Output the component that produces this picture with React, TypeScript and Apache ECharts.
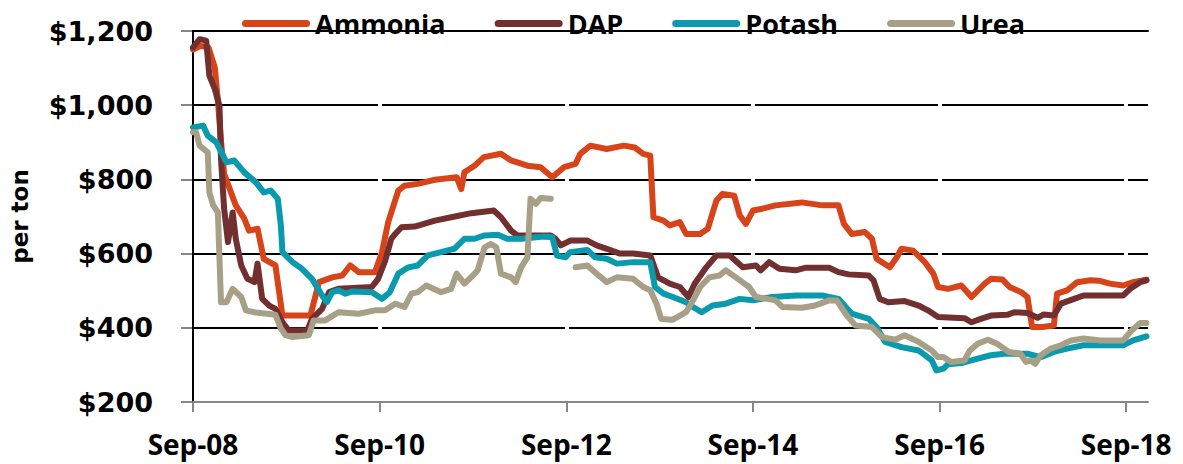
import React, { useEffect, useRef } from "react";
import * as echarts from "echarts";

// x values are months since Sep-2008
const seriesNames = ["Ammonia", "DAP", "Potash", "Urea"];
const seriesColors = ["#D8441A", "#722F2F", "#0A9AAD", "#A89F87"];

const ammonia: [number, number][] = [
  [0, 1150], [1, 1160], [2, 1155], [2.8, 1102], [3.2, 1012], [3.6, 904], [4.0, 815], [5.5, 730],
  [6.6, 694], [7.2, 662], [8.3, 667], [9.1, 586], [10.6, 568], [11.5, 433], [15.1, 433], [16.2, 523],
  [17.9, 536], [19.2, 541], [20.2, 568], [21.3, 550], [23.4, 550], [24.3, 604], [25.1, 685], [26.4, 770],
  [27.2, 783], [28.9, 788], [31.1, 799], [33.9, 806], [34.5, 774], [34.9, 819], [36.2, 837], [37.4, 860],
  [39.6, 869], [40.9, 851], [43, 837], [44.7, 833], [46.2, 806], [47.7, 833], [49.2, 842], [49.8, 869],
  [51.1, 891], [53.2, 882], [55.4, 891], [56.8, 886], [57.9, 869], [58.8, 864], [59.2, 698], [60.5, 689],
  [61.3, 676], [62.6, 685], [63.4, 653], [65.2, 653], [66.2, 667], [67.3, 743], [68.1, 761], [69.6, 756],
  [70.3, 703], [71.1, 680], [72, 716], [73.2, 721], [74.9, 730], [78.3, 738], [80.9, 730], [83, 730],
  [83.7, 680], [84.7, 653], [86.4, 658], [87.3, 640], [87.9, 586], [89.6, 563], [90.5, 590], [91.1, 613],
  [92.6, 608], [94.1, 577], [95.2, 546], [95.8, 510], [97.1, 505], [98.8, 514], [100.1, 483], [101.8, 519],
  [102.6, 532], [104.1, 530], [105, 510], [106.5, 496], [107.3, 483], [107.9, 402], [109.2, 402], [110.7, 406],
  [111.1, 492], [112.4, 501], [113.7, 523], [115.4, 528], [116.5, 527], [117.9, 519], [119.6, 514], [120.9, 523],
  [122.6, 530],
];

const dap: [number, number][] = [
  [0, 1156], [0.85, 1178], [1.7, 1174], [2.1, 1080], [2.8, 1044], [3.4, 999], [3.6, 856], [4.0, 721],
  [4.5, 631], [5.1, 711], [5.5, 640], [6.2, 568], [7.0, 532], [7.9, 523], [8.3, 573], [8.9, 478],
  [9.8, 460], [10.6, 451], [11.5, 415], [12.3, 393], [14.7, 393], [15.3, 424], [16.6, 451], [17.5, 496],
  [18.7, 505], [23, 510], [23.8, 532], [24.7, 580], [25.5, 640], [26, 653], [26.8, 671], [28.5, 673],
  [31.1, 689], [33.2, 698], [35.8, 709], [38.7, 716], [39.6, 698], [40.9, 662], [41.7, 649], [46, 649],
  [46.6, 640], [47.3, 622], [48.5, 635], [50.7, 635], [51.9, 622], [53.2, 613], [54.9, 600], [56.6, 600],
  [58.8, 595], [59.8, 536], [61.3, 519], [62.6, 510], [63.7, 483], [64.5, 519], [66, 563], [67.3, 595],
  [69, 595], [70.7, 563], [72.4, 568], [73, 555], [74.1, 577], [75.4, 559], [77.5, 555], [78.8, 562],
  [81.8, 562], [83, 550], [84.3, 544], [86.9, 541], [87.5, 528], [88.3, 478], [89.4, 469], [91.5, 472],
  [93.3, 460], [94.5, 447], [95.8, 429], [99.2, 426], [100.1, 415], [101.3, 424], [102.6, 433], [104.7, 435],
  [105.6, 442], [107.3, 440], [108.6, 427], [109.4, 436], [110.7, 433], [111.6, 465], [113.3, 478], [114.5, 487],
  [119.6, 487], [120.5, 505], [121.8, 523], [122.6, 528],
];

const potash: [number, number][] = [
  [0, 940], [1.3, 945], [1.9, 918], [3, 900], [4.3, 846], [5.3, 851], [6.6, 819], [8.1, 792],
  [9.1, 765], [10, 770], [10.9, 748], [11.3, 676], [11.5, 604], [12.8, 577], [14, 559], [15.3, 532],
  [16.6, 487], [17.2, 469], [17.9, 496], [18.7, 501], [19.6, 492], [20.5, 498], [23, 496], [24.3, 478],
  [25.3, 496], [26.4, 546], [27.7, 563], [28.9, 568], [30.2, 595], [31.9, 604], [33.6, 613], [34.9, 640],
  [36.2, 640], [37.5, 649], [39.2, 651], [40.4, 640], [42.2, 640], [45.1, 646], [46.2, 644], [46.8, 595],
  [47.9, 590], [48.5, 604], [50.7, 610], [51.7, 590], [53.2, 586], [54.5, 573], [56.6, 577], [58.8, 577],
  [59.4, 510], [60.5, 492], [61.7, 483], [63.4, 469], [64.3, 456], [65.4, 442], [66.8, 460], [68.5, 465],
  [70.3, 478], [72, 474], [74.5, 483], [77.5, 487], [80.9, 487], [83, 478], [84.7, 438], [86.9, 424],
  [87.9, 402], [89, 362], [91.1, 348], [93.3, 339], [95, 312], [95.6, 285], [96.5, 290], [97.1, 302],
  [98.8, 305], [100.9, 317], [102.6, 326], [104.3, 330], [107.3, 330], [109, 321], [110.7, 335], [112.4, 344],
  [114.5, 353], [119.6, 353], [120.9, 366], [122.6, 377],
];

const urea: [number, number | null][] = [
  [0, 927], [0.4, 927], [0.85, 891], [1.9, 873], [2.1, 765], [2.6, 730], [3.2, 711], [3.6, 469],
  [4.3, 469], [5.1, 505], [6.2, 483], [6.8, 447], [8.1, 441], [10.6, 435], [11.3, 398], [11.9, 380],
  [12.8, 375], [14.9, 380], [15.5, 420], [17, 420], [18.7, 442], [21.3, 438], [23.4, 447], [24.7, 447],
  [26, 465], [27.2, 456], [28.1, 492], [28.9, 496], [30, 514], [31.9, 496], [33.2, 505], [33.9, 546],
  [34.9, 519], [36, 541], [36.6, 555], [37.5, 617], [38.3, 626], [39, 617], [39.6, 546], [40.9, 536],
  [41.5, 523], [42.2, 563], [43, 590], [43.4, 748], [44.1, 734], [44.7, 750], [46, 748], [47.5, null],
  [49.2, 563], [50.7, 568], [51.9, 546], [53.2, 523], [54.5, 536], [56.6, 532], [57.9, 510], [58.8, 501],
  [59.6, 465], [60.2, 424], [61.7, 422], [63.4, 442], [64.3, 474], [65.2, 510], [66.4, 536], [67.7, 541],
  [68.5, 555], [69.8, 536], [71.5, 510], [72.4, 483], [74.9, 474], [75.8, 456], [78.3, 454], [80, 460],
  [81.8, 474], [82.8, 473], [83.9, 438], [85.2, 406], [87.3, 402], [88.6, 375], [90.3, 368], [91.5, 380],
  [93.3, 362], [95, 339], [95.8, 321], [96.5, 321], [97.5, 308], [99.2, 312], [99.9, 339], [100.9, 357],
  [102.2, 368], [103.4, 357], [104.9, 335], [106.4, 330], [107.1, 308], [107.7, 312], [108.3, 303], [109, 326],
  [110.3, 344], [111.6, 353], [112.9, 366], [114.5, 371], [116.7, 366], [119.6, 366], [120.7, 393], [121.8, 413],
  [122.6, 413],
];

const seriesData = [ammonia, dap, potash, urea];

const xTickMonths = [0, 24, 48, 72, 96, 120];
const xTickLabels = ["Sep-08", "Sep-10", "Sep-12", "Sep-14", "Sep-16", "Sep-18"];
const xMin = 0;
const xMax = 122.8;
const yMin = 200;
const yMax = 1200;
const yStep = 200;

const capsule = "path://M3.5,0 H64.5 A3.5,3.5 0 0 1 64.5,7 H3.5 A3.5,3.5 0 0 1 3.5,0 Z";
const AXIS_GRAY = "#878787";

export default function App() {
  const ref = useRef<HTMLDivElement>(null);

  useEffect(() => {
    document.body.style.margin = "0";
    if (!ref.current) return;
    const chart = echarts.init(ref.current, null, { renderer: "svg" });

    const xLabel = (v: number) => {
      const i = xTickMonths.indexOf(Math.round(v * 1000) / 1000);
      return i >= 0 ? xTickLabels[i] : "";
    };

    chart.setOption({
      animation: false,
      backgroundColor: "#ffffff",
      grid: { left: 187, right: 35, top: 31, bottom: 62, containLabel: false },
      legend: {
        left: 237,
        top: 5,
        itemWidth: 68,
        itemHeight: 7,
        itemGap: 49,
        icon: capsule,
        data: seriesNames,
        textStyle: {
          fontFamily: "Open Sans",
          fontWeight: "bold",
          fontSize: 27,
          color: "#000",
        },
      },
      xAxis: [
        {
          type: "value",
          min: xMin,
          max: xMax,
          interval: 24,
          position: "bottom",
          z: 3,
          axisLine: { show: true, lineStyle: { color: AXIS_GRAY, width: 2 } },
          axisTick: { show: true, inside: false, length: 10, lineStyle: { color: AXIS_GRAY, width: 2 } },
          splitLine: { show: false },
          axisLabel: {
            margin: 28,
            formatter: xLabel,
            fontFamily: "Open Sans",
            fontWeight: "bold",
            fontSize: 28,
            color: "#000",
            showMaxLabel: false,
          },
        },
        {
          type: "value",
          min: xMin,
          max: xMax,
          interval: 24,
          position: "top",
          z: 3,
          axisLine: { show: true, lineStyle: { color: "#000", width: 2 } },
          axisTick: { show: false },
          axisLabel: { show: false },
          splitLine: { show: false },
        },
        {
          type: "value",
          min: xMin,
          max: xMax,
          interval: 24,
          position: "bottom",
          z: 1,
          axisLine: { show: false },
          axisTick: { show: false },
          axisLabel: { show: false },
          splitLine: {
            show: true,
            showMinLine: false,
            showMaxLine: false,
            lineStyle: { color: "#ffffff", width: 4 },
          },
        },
      ],
      yAxis: [
        {
          type: "value",
          min: yMin,
          max: yMax,
          interval: yStep,
          z: 0,
          name: "per ton",
          nameLocation: "middle",
          nameGap: 162,
          nameTextStyle: {
            fontFamily: "DejaVu Sans",
            fontWeight: "bold",
            fontSize: 23,
            color: "#000",
          },
          axisLine: { show: true, lineStyle: { color: AXIS_GRAY, width: 2 } },
          axisTick: { show: true, inside: false, length: 12, lineStyle: { color: AXIS_GRAY, width: 2 } },
          splitLine: { show: true, lineStyle: { color: "#000", width: 2 } },
          axisLabel: {
            margin: 40,
            formatter: (v: number) => "$" + v.toLocaleString("en-US"),
            fontFamily: "DejaVu Sans",
            fontWeight: "bold",
            fontSize: 27,
            color: "#000",
          },
        },
        {
          type: "value",
          min: yMin,
          max: yMax,
          interval: yStep,
          position: "right",
          z: 3,
          axisLine: { show: true, lineStyle: { color: "#000", width: 2 } },
          axisTick: { show: false },
          axisLabel: { show: false },
          splitLine: { show: false },
        },
      ],
      series: seriesNames.map((name, i) => ({
        name,
        type: "line",
        xAxisIndex: 0,
        yAxisIndex: 0,
        data: seriesData[i],
        showSymbol: false,
        symbol: "none",
        connectNulls: false,
        z: 5,
        color: seriesColors[i],
        lineStyle: { color: seriesColors[i], width: 6, cap: "round", join: "round" },
      })),
    });

    return () => chart.dispose();
  }, []);

  return <div ref={ref} style={{ width: 1183, height: 464 }} />;
}
